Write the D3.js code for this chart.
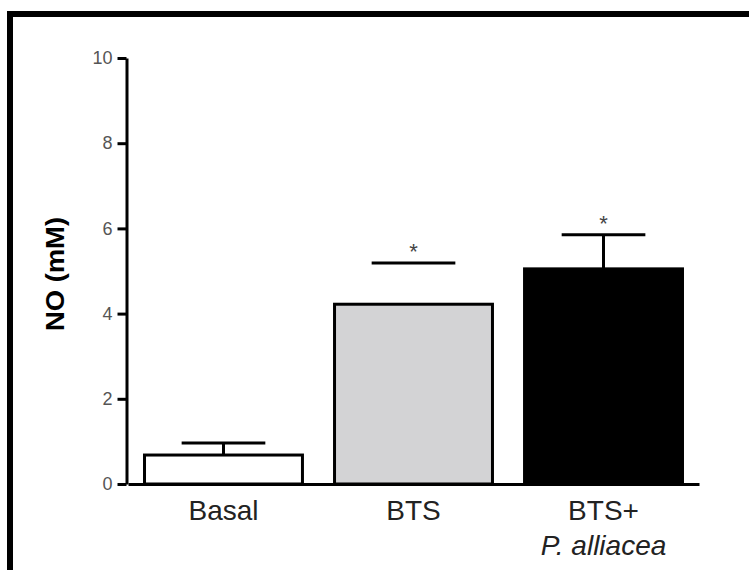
<!DOCTYPE html>
<html>
<head>
<meta charset="utf-8">
<script src="https://cdn.jsdelivr.net/npm/d3@7"></script>
<style>
  html, body { margin: 0; padding: 0; background: #fff; }
  svg { display: block; }
</style>
</head>
<body>
<svg id="chart" width="749" height="570"></svg>
<script>
// ---- data ----
const categories = ["Basal", "BTS", "BTS+"];
const categorySub = ["", "", "P. alliacea"];
const means = [0.68, 4.22, 5.05];
const errors = [0.28, 0.97, 0.80];
const significant = [false, true, true];
const yTicks = [0, 2, 4, 6, 8, 10];
const fills = ["#ffffff", "#d3d3d5", "#000000"];
const showStem = [true, false, true];

const svg = d3.select("#chart");

// frame
svg.append("path")
  .attr("d", "M10,570 L10,14 L749,14")
  .attr("fill", "none").attr("stroke", "#000").attr("stroke-width", 6);

const x = d3.scaleBand().domain(categories).range([128, 699])
  .paddingInner(0.153).paddingOuter(0.079);
const y = d3.scaleLinear().domain([0, 10]).range([484, 58]);

const font = "'Liberation Sans', Arial, sans-serif";

// y axis
const yAxis = svg.append("g").attr("transform", "translate(126.5,0)")
  .call(d3.axisLeft(y).tickValues(yTicks).tickSize(9).tickSizeOuter(0).tickPadding(5));
yAxis.select(".domain").attr("stroke", "#000").attr("stroke-width", 3);
yAxis.selectAll(".tick line").attr("stroke", "#000").attr("stroke-width", 3);
yAxis.selectAll(".tick text").attr("font-family", font).attr("font-size", 18)
  .attr("fill", "#555");

// bars
svg.append("g").selectAll("rect").data(categories).join("rect")
  .attr("x", d => x(d) + 1.5)
  .attr("width", x.bandwidth() - 3)
  .attr("y", (d, i) => y(means[i]))
  .attr("height", (d, i) => y(0) - y(means[i]))
  .attr("fill", (d, i) => fills[i])
  .attr("stroke", "#000").attr("stroke-width", 3);

// error bars
const capW = x.bandwidth() * 0.52;
const eb = svg.append("g").attr("stroke", "#000").attr("stroke-width", 3);
categories.forEach((c, i) => {
  const cx = x(c) + x.bandwidth() / 2;
  if (showStem[i]) {
    eb.append("line").attr("x1", cx).attr("x2", cx)
      .attr("y1", y(means[i])).attr("y2", y(means[i] + errors[i]));
  }
  eb.append("line").attr("x1", cx - capW / 2).attr("x2", cx + capW / 2)
    .attr("y1", y(means[i] + errors[i])).attr("y2", y(means[i] + errors[i]));
  if (significant[i]) {
    svg.append("text").attr("x", cx).attr("y", y(means[i] + errors[i]) - 4)
      .attr("text-anchor", "middle").attr("font-family", font)
      .attr("font-size", 22).attr("fill", "#444").text("*");
  }
});

// x axis
const xAxis = svg.append("g").attr("transform", "translate(0,484)")
  .call(d3.axisBottom(x).tickSize(0).tickSizeOuter(0));
xAxis.select(".domain").attr("stroke", "#000").attr("stroke-width", 3);
xAxis.selectAll(".tick text").each(function(d, i) {
  const t = d3.select(this);
  t.text(null).attr("y", 36).attr("dy", null)
    .attr("font-family", font).attr("font-size", 28).attr("fill", "#222");
  t.append("tspan").attr("x", 0).text(categories[i]);
  if (categorySub[i]) {
    t.append("tspan").attr("x", 0).attr("dy", 35)
      .attr("font-style", "italic").text(categorySub[i]);
  }
});

// y label
svg.append("text")
  .attr("transform", "translate(64,274) rotate(-90)")
  .attr("text-anchor", "middle")
  .attr("font-family", font).attr("font-weight", "bold")
  .attr("font-size", 26).attr("textLength", 114).attr("lengthAdjust", "spacingAndGlyphs")
  .attr("fill", "#000").text("NO (mM)");
</script>
</body>
</html>
